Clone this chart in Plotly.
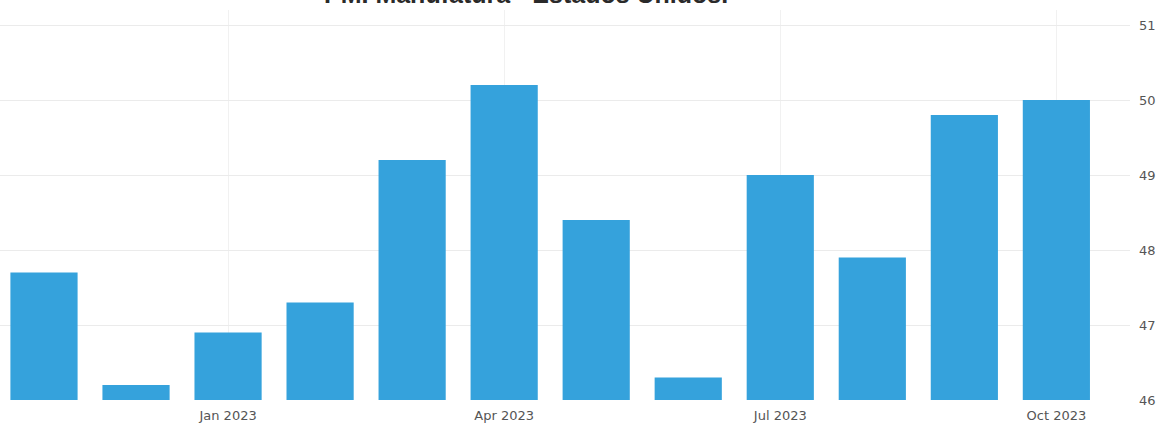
import plotly.graph_objects as go

months = ["Nov 2022", "Dec 2022", "Jan 2023", "Feb 2023", "Mar 2023", "Apr 2023",
          "May 2023", "Jun 2023", "Jul 2023", "Aug 2023", "Sep 2023", "Oct 2023"]
pmi = [47.7, 46.2, 46.9, 47.3, 49.2, 50.2, 48.4, 46.3, 49.0, 47.9, 49.8, 50.0]
tick_months = ["Jan 2023", "Apr 2023", "Jul 2023", "Oct 2023"]
y_ticks = [46, 47, 48, 49, 50, 51]
title_text = "PMI Manufatura - Estados Unidos."

fig = go.Figure()
fig.add_trace(go.Bar(
    x=months, y=pmi,
    marker=dict(color="#35a2dc", line=dict(width=0)),
    width=0.73,
))

fig.update_layout(
    width=1168, height=425,
    margin=dict(l=0, r=38, t=10, b=25),
    paper_bgcolor="white", plot_bgcolor="white",
    showlegend=False,
    font=dict(family="DejaVu Sans", color="#555555", size=13),
    annotations=[dict(
        text="<b>" + title_text + "</b>", xref="paper", yref="paper",
        x=526 / 1130, y=1.0, xanchor="center", yanchor="bottom",
        showarrow=False,
        font=dict(family="Liberation Sans", size=25, color="#2a2a2a"),
    )],
)
fig.update_xaxes(
    type="category",
    range=[-0.478, 11.80],
    tickmode="array", tickvals=tick_months, ticktext=tick_months,
    showgrid=True, gridcolor="#f1f1f1", gridwidth=1,
    showline=False, zeroline=False, ticks="",
    ticklabelstandoff=6,
    tickfont=dict(size=13, color="#555555"),
)
fig.update_yaxes(
    side="right",
    range=[46, 51.2],
    tickmode="array", tickvals=y_ticks,
    showgrid=True, gridcolor="#ebebeb", gridwidth=1,
    showline=False, zeroline=False, ticks="",
    ticklabelstandoff=8,
    tickfont=dict(size=13, color="#555555"),
)

fig.write_html("out.html", config={"displayModeBar": False},
               post_script="document.body.style.margin='0';")
